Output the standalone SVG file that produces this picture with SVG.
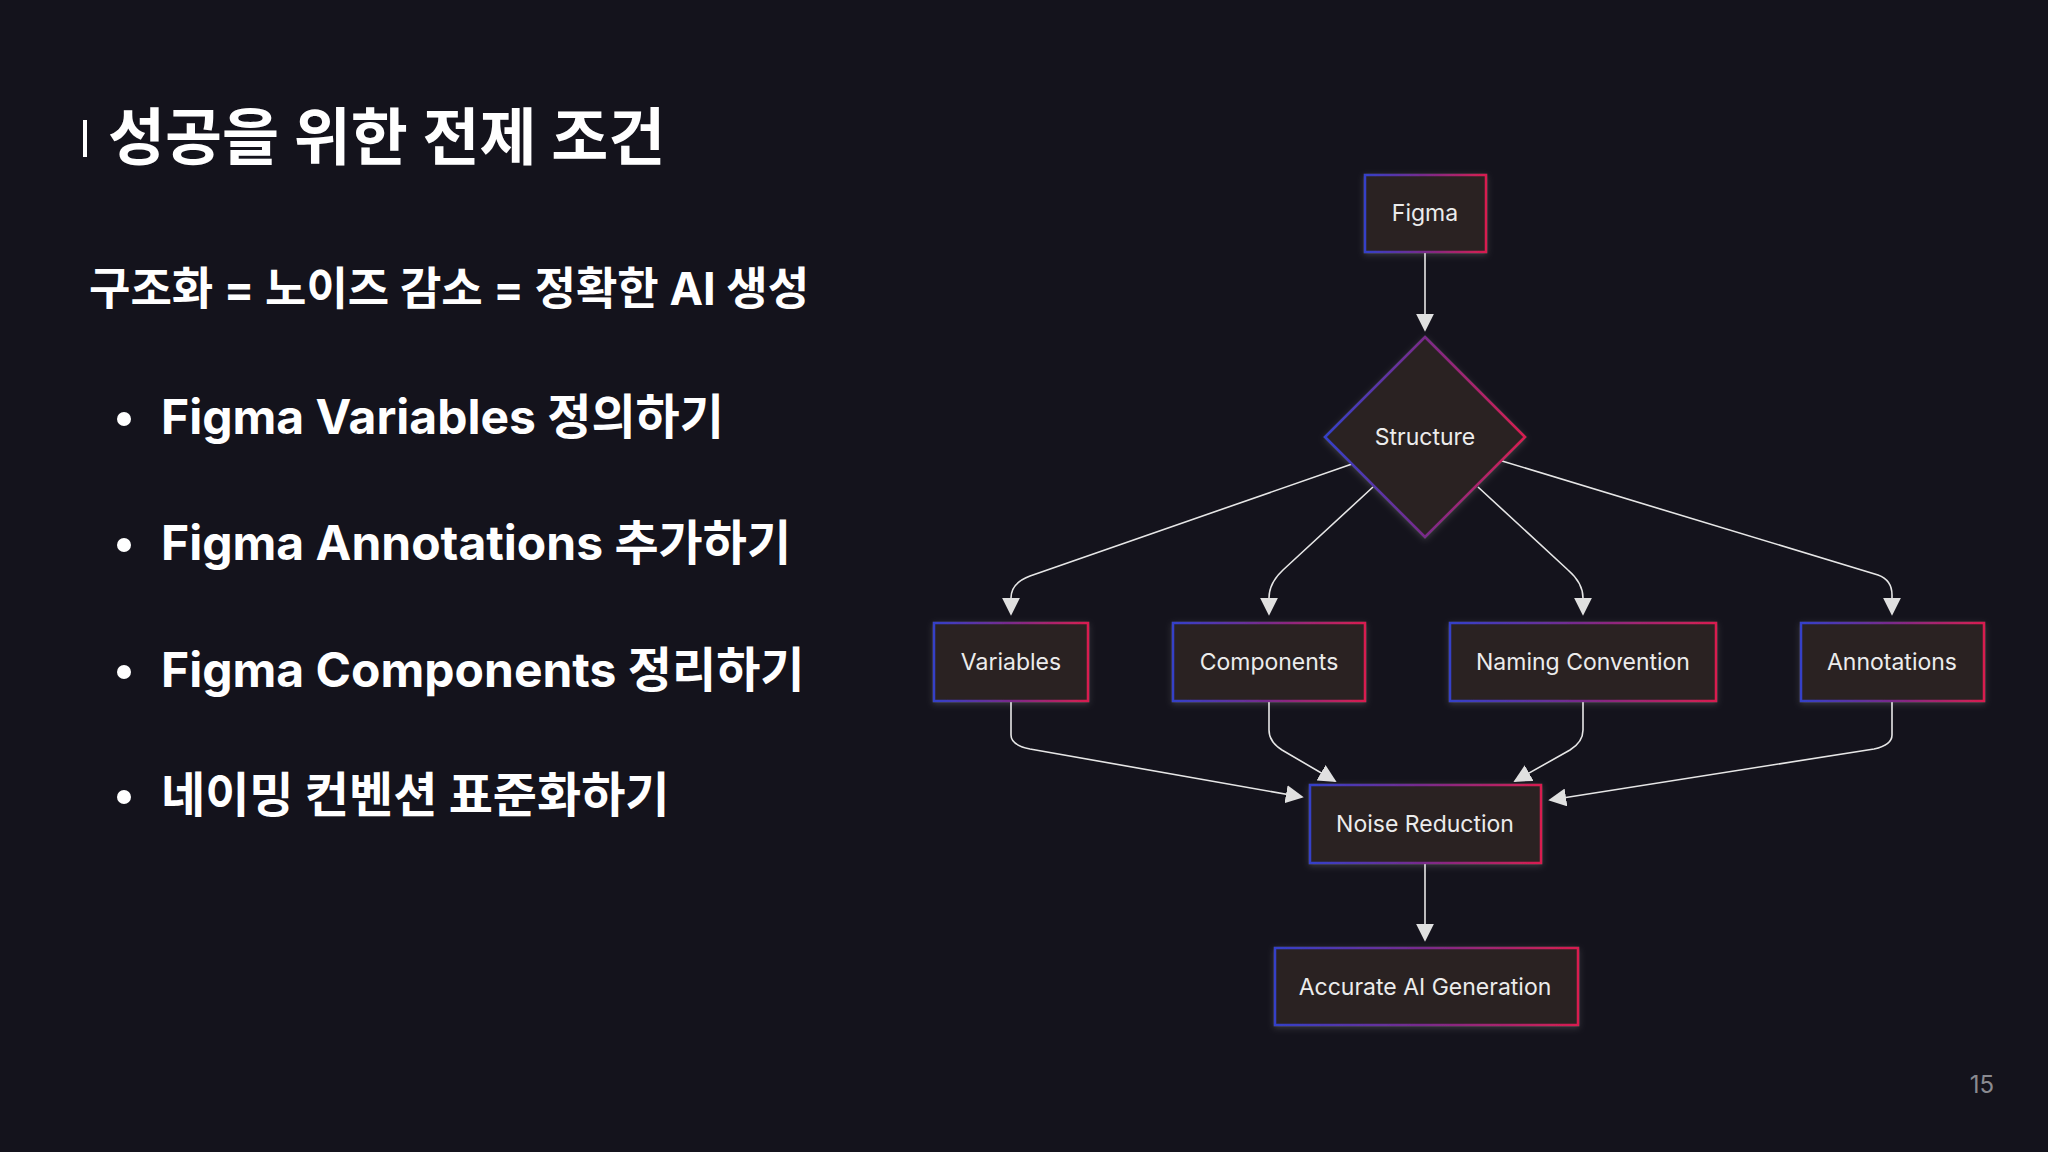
<svg xmlns="http://www.w3.org/2000/svg" width="2048" height="1152" viewBox="0 0 2048 1152">
<defs>
<linearGradient id="g" x1="0" y1="0" x2="1" y2="0"><stop offset="0" stop-color="#3440c8"/><stop offset="0.5" stop-color="#7a2a8a"/><stop offset="1" stop-color="#d81e50"/></linearGradient>
<marker id="a" viewBox="0 0 10 10" refX="9" refY="5" markerWidth="8" markerHeight="8" orient="auto" markerUnits="userSpaceOnUse"><path d="M0,0 L10,5 L0,10 z" fill="#e0e0e0"/></marker>
<marker id="b" viewBox="0 0 10 10" refX="9" refY="5" markerWidth="18" markerHeight="18" orient="auto" markerUnits="userSpaceOnUse"><path d="M0,0 L10,5 L0,10 z" fill="#e0e0e0"/></marker>
<filter id="sh" x="-20%" y="-20%" width="140%" height="140%"><feDropShadow dx="0" dy="2" stdDeviation="3" flood-color="#ffffff" flood-opacity="0.15"/></filter>
</defs>
<style>
.n{fill:#2a2222;stroke:url(#g);stroke-width:2.5;filter:url(#sh)}
.t{font-family:Inter,"Liberation Sans",sans-serif;font-size:23px;fill:#ececec;text-anchor:middle;dominant-baseline:central}
.c{fill:none;stroke:#e6e6e6;stroke-width:1.6;marker-end:url(#b)}
.k{font-family:Inter,"Noto Sans CJK KR",sans-serif;font-weight:700;fill:#ffffff}
</style>
<rect width="2048" height="1152" fill="#14131c"/>
<g id="left">
<rect x="83" y="120" width="4" height="37" fill="#ffffff"/>
<text class="k" x="108" y="160" font-size="62">성공을 위한 전제 조건</text>
<text class="k" x="89" y="305" font-size="45">구조화 = 노이즈 감소 = 정확한 AI 생성</text>
<circle cx="124" cy="419" r="7" fill="#fff"/>
<text class="k" x="161" y="434" font-size="48">Figma Variables 정의하기</text>
<circle cx="124" cy="545" r="7" fill="#fff"/>
<text class="k" x="161" y="560" font-size="48">Figma Annotations 추가하기</text>
<circle cx="124" cy="672" r="7" fill="#fff"/>
<text class="k" x="161" y="687" font-size="48">Figma Components 정리하기</text>
<circle cx="124" cy="797" r="7" fill="#fff"/>
<text class="k" x="161" y="812" font-size="48">네이밍 컨벤션 표준화하기</text>
<text x="1982" y="1093" font-family="Inter,'Liberation Sans',sans-serif" font-size="24" fill="#8a8a90" text-anchor="middle">15</text>
</g>
<g id="connectors">
<path class="c" d="M1425,253 L1425,330"/>
<path class="c" d="M1352,464 L1030,576 Q1011,583 1011,598 L1011,614"/>
<path class="c" d="M1373,487 L1283,570 Q1269,583 1269,598 L1269,614"/>
<path class="c" d="M1478,487 L1568,570 Q1583,583 1583,598 L1583,614"/>
<path class="c" d="M1502,461 L1878,575 Q1892,580 1892,595 L1892,614"/>
<path class="c" d="M1011,701 L1011,735 Q1011,745 1030,749 L1302,797"/>
<path class="c" d="M1269,701 L1269,730 Q1269,742 1282,750 L1335,781"/>
<path class="c" d="M1583,701 L1583,730 Q1583,742 1570,750 L1515,781"/>
<path class="c" d="M1892,701 L1892,735 Q1892,745 1874,749 L1550,800"/>
<path class="c" d="M1425,863 L1425,940"/>
</g>
<g id="figma"><rect class="n" x="1365" y="175" width="121" height="77"/><text class="t" x="1425" y="213">Figma</text></g>
<g id="structure"><path class="n" d="M1425,337 L1525,437 L1425,537 L1325,437 z"/><text class="t" x="1425" y="437">Structure</text></g>
<g id="variables"><rect class="n" x="934" y="623" width="154" height="78"/><text class="t" x="1011" y="662">Variables</text></g>
<g id="components"><rect class="n" x="1173" y="623" width="192" height="78"/><text class="t" x="1269" y="662">Components</text></g>
<g id="naming"><rect class="n" x="1450" y="623" width="266" height="78"/><text class="t" x="1583" y="662">Naming Convention</text></g>
<g id="annotations"><rect class="n" x="1801" y="623" width="183" height="78"/><text class="t" x="1892" y="662">Annotations</text></g>
<g id="noise"><rect class="n" x="1310" y="785" width="231" height="78"/><text class="t" x="1425" y="824">Noise Reduction</text></g>
<g id="accurate"><rect class="n" x="1275" y="948" width="303" height="77"/><text class="t" x="1425" y="987">Accurate AI Generation</text></g>
</svg>
